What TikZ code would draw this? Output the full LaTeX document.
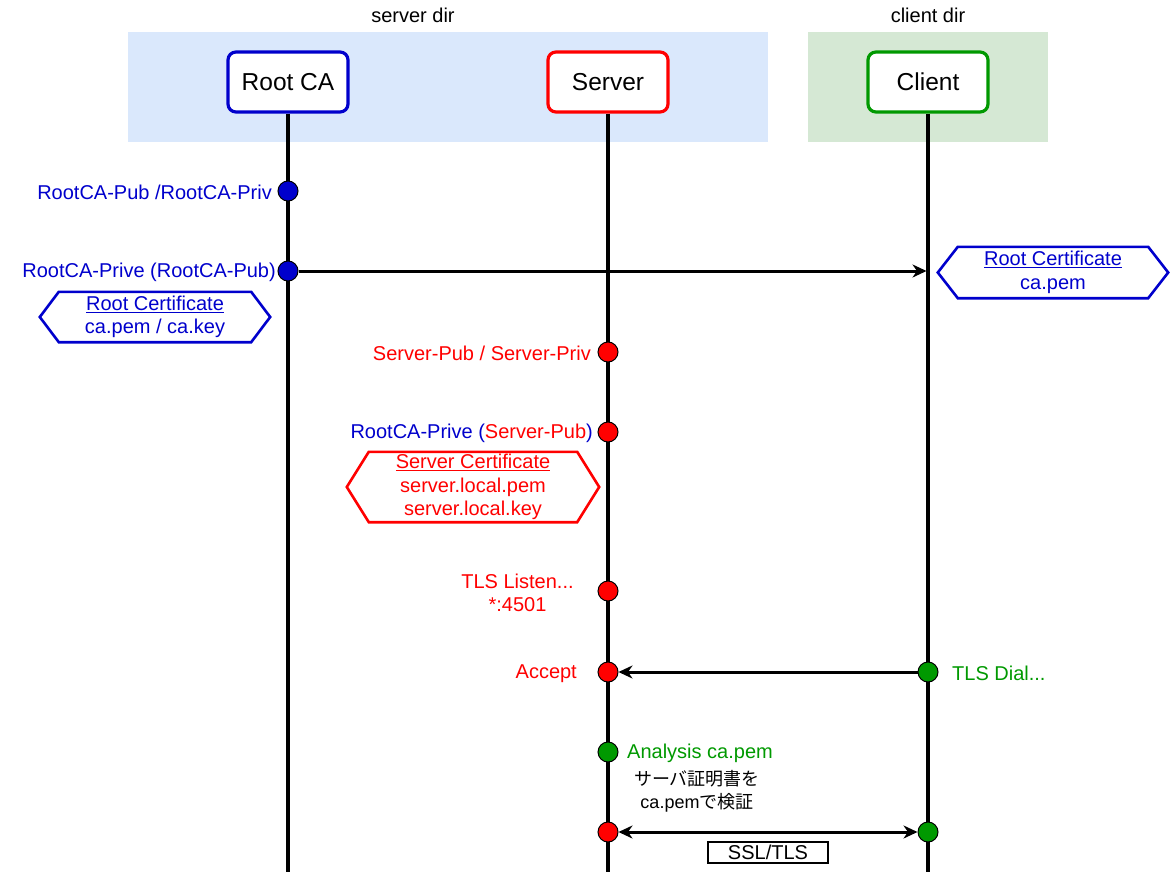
\documentclass[tikz,border=0pt]{standalone}
\usepackage{fontspec}
\setmainfont{Liberation Sans}
\newfontfamily\jpfont{Noto Sans CJK JP}
\usetikzlibrary{arrows.meta}

\definecolor{cablue}{HTML}{0000CC}
\definecolor{srvred}{HTML}{FF0000}
\definecolor{cligreen}{HTML}{009900}
\definecolor{srvbg}{HTML}{DAE8FC}
\definecolor{clibg}{HTML}{D5E8D4}

% hexagonal frame around a text node: #1 node, #2 slant inset, #3 colour
\newcommand\hexframe[3]{%
  \draw[#3, line width=2.6pt, line join=miter]
    (#1.west) -- ([xshift=#2]#1.north west) -- ([xshift=-#2]#1.north east)
    -- (#1.east) -- ([xshift=-#2]#1.south east) -- ([xshift=#2]#1.south west) -- cycle;}

\begin{document}
\begin{tikzpicture}[x=1pt, y=-1pt,
  lbl/.style={inner sep=0pt, font=\fontsize{20}{23}\selectfont, yshift=-1.5pt},
  region/.style={draw=none, inner sep=0pt},
  actor/.style={draw, rounded corners=8pt, line width=3.2pt, fill=white,
    minimum width=120pt, minimum height=60pt, inner sep=0pt,
    font=\fontsize{24.5}{28}\selectfont},
  lifeline/.style={line width=3.2pt},
  dot/.style={circle, draw=black, line width=1pt, minimum size=20pt, inner sep=0pt},
  cert/.style={inner sep=0pt, align=center, font=\fontsize{20}{23.5}\selectfont},
  msg/.style={line width=3pt, -{Stealth[length=14pt, width=13pt, inset=4.5pt]}},
  msgboth/.style={line width=3pt, {Stealth[length=14pt, width=13pt, inset=4.5pt]}-{Stealth[length=14pt, width=13pt, inset=4.5pt]}}
]
\useasboundingbox (0,0) rectangle (1170,875);

% directory zones
\node[region, fill=srvbg, minimum width=640pt, minimum height=110pt] (srvzone) at (448,87) {};
\node[region, fill=clibg, minimum width=240pt, minimum height=110pt] (clizone) at (928,87) {};
\node[lbl] (srvdir) at (413,14) {server dir};
\node[lbl] (clidir) at (928,14) {client dir};

% participants
\node[actor, draw=cablue] (rootca) at (288,82) {Root CA};
\node[actor, draw=srvred] (server) at (608,82) {Server};
\node[actor, draw=cligreen] (client) at (928,82) {Client};

% lifeline ends
\coordinate (rootcaEnd) at (288,872);
\coordinate (serverEnd) at (608,872);
\coordinate (clientEnd) at (928,872);
\coordinate (cliRecv) at (926.5,271);

\draw[lifeline] (rootca.south) -- (rootcaEnd);
\draw[lifeline] (server.south) -- (serverEnd);
\draw[lifeline] (client.south) -- (clientEnd);

% event dots
\node[dot, fill=cablue] (caKeys) at (288,191) {};
\node[dot, fill=cablue] (caSign) at (288,271) {};
\node[dot, fill=srvred] (srvKeys) at (608,352) {};
\node[dot, fill=srvred] (srvSign) at (608,432) {};
\node[dot, fill=srvred] (srvListen) at (608,591) {};
\node[dot, fill=srvred] (srvAccept) at (608,672) {};
\node[dot, fill=cligreen] (cliDial) at (928,672) {};
\node[dot, fill=cligreen] (cliCheck) at (608,752) {};
\node[dot, fill=srvred] (srvTls) at (608,832) {};
\node[dot, fill=cligreen] (cliTls) at (928,832) {};

% messages
\draw[msg] (caSign) -- (cliRecv);
\draw[msg] (cliDial) -- (srvAccept);
\draw[msgboth] (srvTls) -- (cliTls);

% labels
\node[lbl, text=cablue, anchor=east] (caKeysL) at (272,191) {RootCA-Pub /RootCA-Priv};
\node[lbl, text=cablue, anchor=east] (caSignL) at (276,271) {RootCA-Prive (RootCA-Pub)};
\node[lbl, text=srvred, anchor=east] (srvKeysL) at (591,352) {Server-Pub / Server-Priv};
\node[lbl, text=cablue, anchor=east] (srvSignL) at (593,432) {RootCA-Prive (\textcolor{srvred}{Server-Pub})};
\node[lbl, text=srvred, align=center] (srvListenL) at (517.5,591.5) {TLS Listen...\\*:4501};
\node[lbl, text=srvred, anchor=east] (srvAcceptL) at (577,672) {Accept};
\node[lbl, text=cligreen, anchor=west] (cliDialL) at (952,672) {TLS Dial...};
\node[lbl, text=cligreen, anchor=west] (cliCheckL) at (627,752) {Analysis ca.pem};
\node[inner sep=0pt, align=center, font=\fontsize{18}{23}\selectfont] (verifyL) at (697,791.5)
  {{\jpfont サーバ証明書を}\\ca.pem{\jpfont で検証}};

% certificates
\node[cert, text=cablue, minimum width=230pt, minimum height=50pt] (rootCert) at (155,317)
  {\underline{Root Certificate}\\ca.pem / ca.key};
\hexframe{rootCert}{19pt}{cablue}
\node[cert, text=cablue, minimum width=230pt, minimum height=51pt] (cliCert) at (1053,272.5)
  {\underline{Root Certificate}\\ca.pem};
\hexframe{cliCert}{20pt}{cablue}
\node[cert, text=srvred, minimum width=252pt, minimum height=70pt] (srvCert) at (473,487)
  {\underline{Server Certificate}\\server.local.pem\\server.local.key};
\hexframe{srvCert}{22pt}{srvred}

% channel tag
\node[draw, line width=2.6pt, minimum width=120pt, minimum height=21pt, inner sep=0pt,
  font=\fontsize{20}{23}\selectfont] (sslTag) at (768,852.5) {SSL/TLS};
\end{tikzpicture}
\end{document}
